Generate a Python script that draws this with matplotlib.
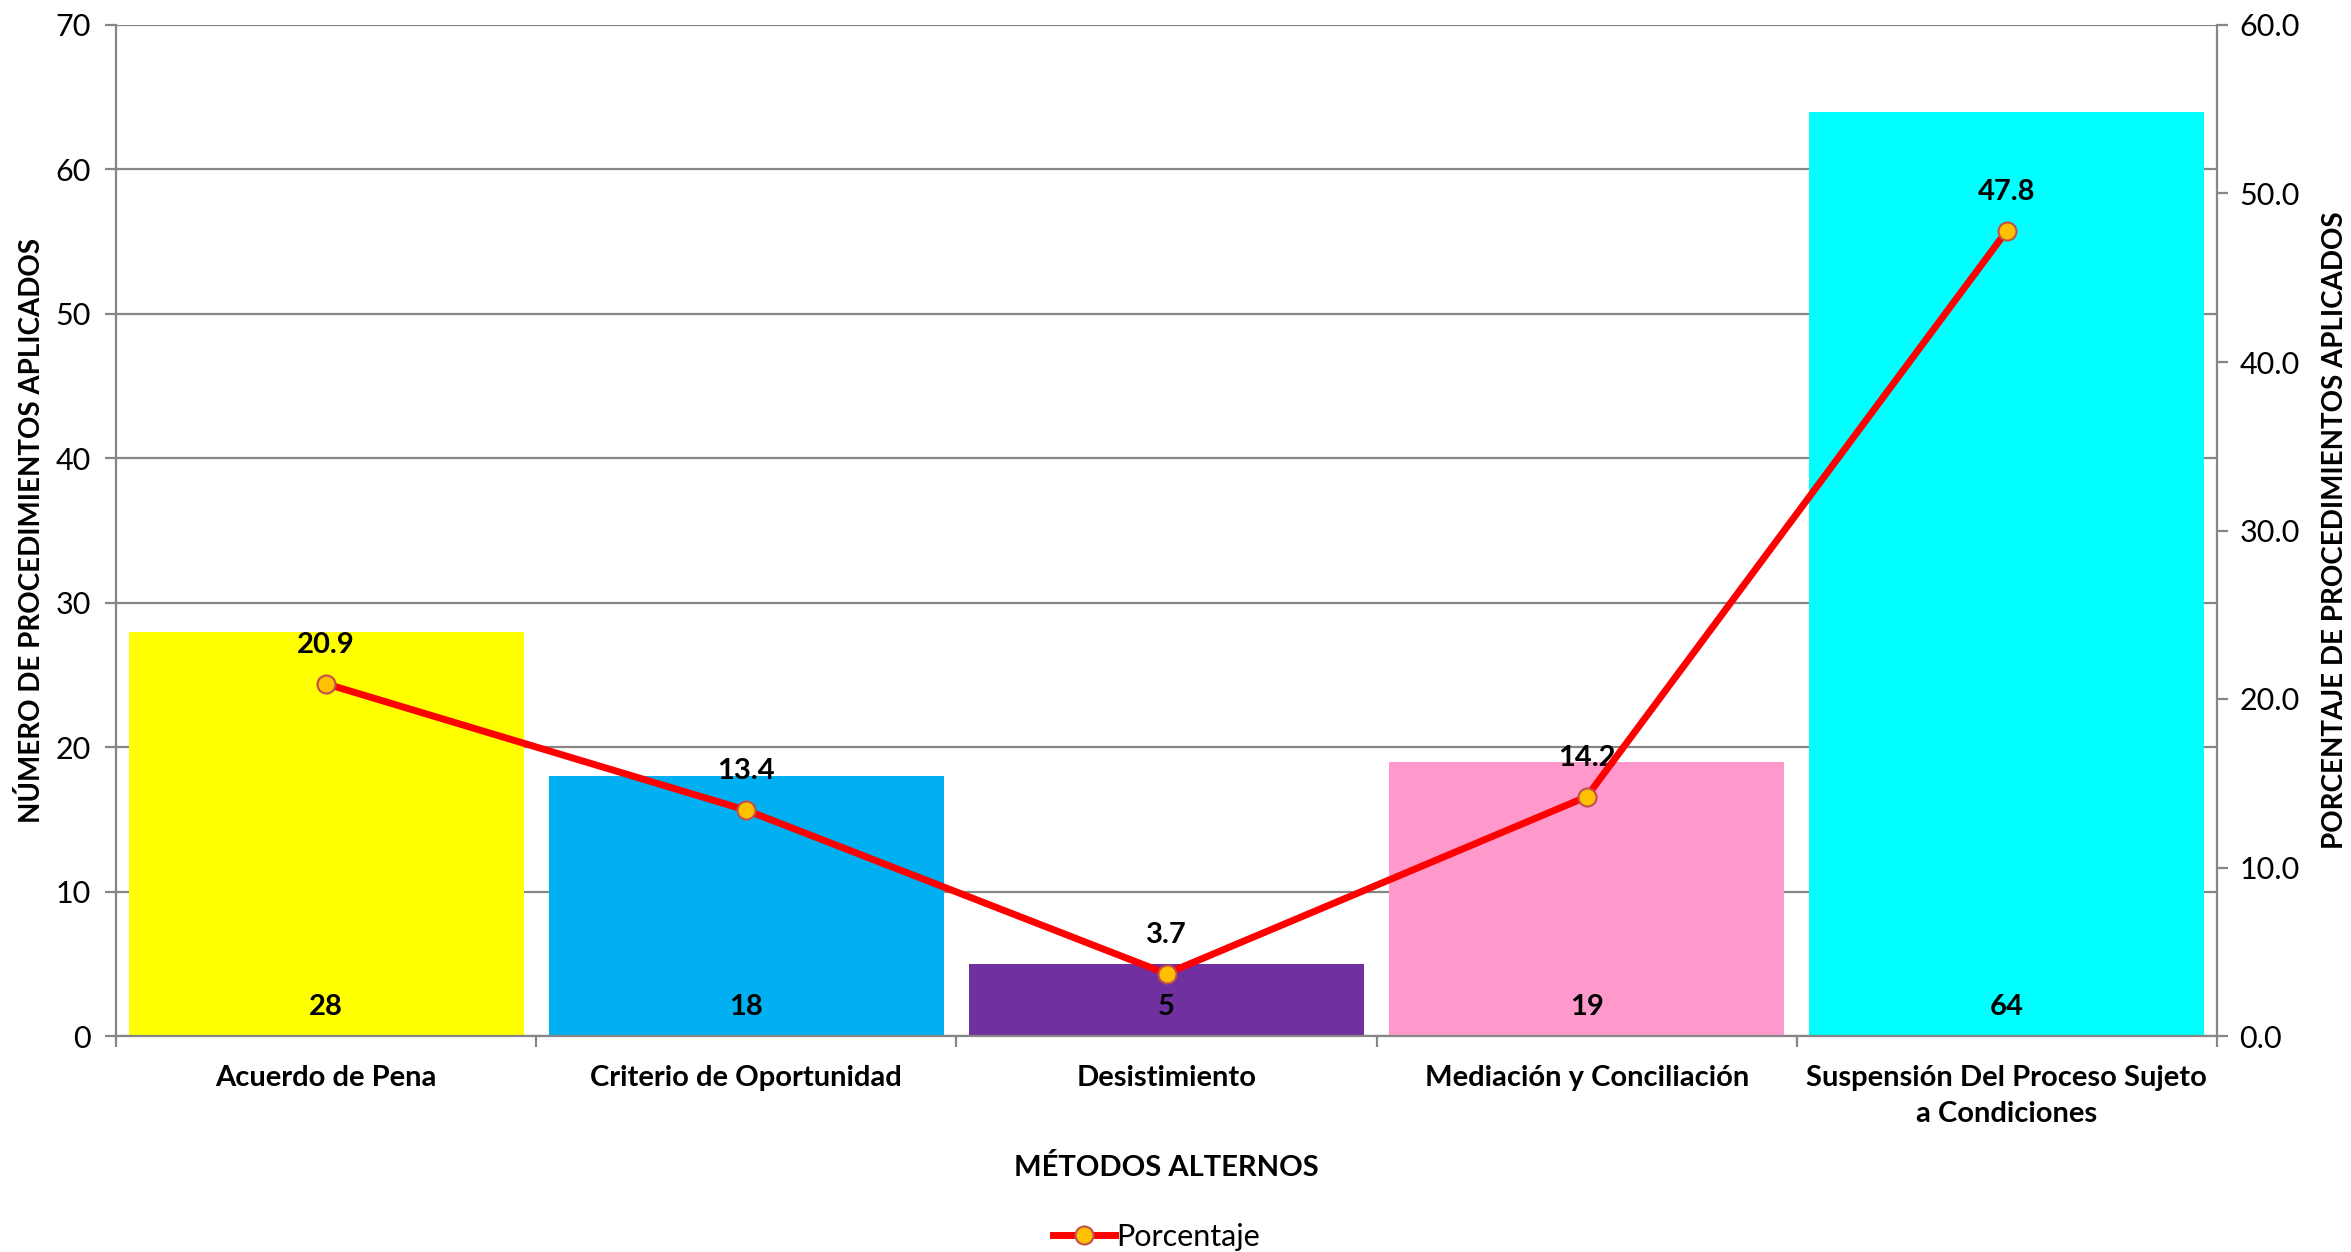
import numpy as np
import matplotlib
matplotlib.use("Agg")
import matplotlib.pyplot as plt
from matplotlib.lines import Line2D

# data
categories = ["Acuerdo de Pena", "Criterio de Oportunidad", "Desistimiento",
              "Mediación y Conciliación", "Suspensión Del Proceso Sujeto\na Condiciones"]
counts = [28, 18, 5, 19, 64]
percent = [20.9, 13.4, 3.7, 14.2, 47.8]
bar_colors = ["#FFFF00", "#00B0F0", "#7030A0", "#FF99CC", "#00FFFF"]

plt.rcParams['font.family'] = ['Lato', 'DejaVu Sans']
grey = "#868686"

fig = plt.figure(figsize=(23.51, 12.52), dpi=100)
ax = fig.add_axes([116 / 2351, 1 - 1036 / 1252, (2217 - 116) / 2351, (1036 - 25) / 1252])
ax2 = ax.twinx()

x = np.arange(len(categories))
ax.bar(x, counts, width=0.94, color=bar_colors, zorder=2)
ax.set_xlim(-0.5, len(categories) - 0.5)
ax.set_ylim(0, 70)
ax.set_yticks(np.arange(0, 71, 10))
ax.yaxis.grid(True, color=grey, linewidth=1.6, zorder=0)
ax.set_axisbelow(True)

# count labels near the bottom of each bar
for xi, c in zip(x, counts):
    ax.annotate(str(c), (xi, 0), xytext=(0, 21), textcoords="offset points",
                ha="center", va="center", fontsize=21, fontweight="bold", zorder=5)

# category ticks between bars
ax.set_xticks(x)
ax.set_xticklabels(categories, fontsize=21, fontweight="bold", linespacing=1.45)
ax.tick_params(axis="x", length=0, pad=21)
ax.set_xticks(np.arange(-0.5, len(categories), 1), minor=True)
ax.tick_params(axis="x", which="minor", length=8, color=grey, width=1.6)
ax.tick_params(axis="y", length=8, color=grey, width=1.6, labelsize=22, pad=10)

for side in ["top", "right"]:
    ax.spines[side].set_visible(False)
ax.spines["left"].set_color(grey)
ax.spines["left"].set_linewidth(1.6)
ax.spines["bottom"].set_color(grey)
ax.spines["bottom"].set_linewidth(1.6)

ax.set_xlabel("MÉTODOS ALTERNOS", fontsize=21, fontweight="bold", labelpad=20)
ax.set_ylabel("NÚMERO DE PROCEDIMIENTOS APLICADOS", fontsize=20, fontweight="bold", labelpad=8)

# percentage line on secondary axis
ax2.plot(x, percent, color="#FF0000", linewidth=5, marker="o", markersize=13,
         markerfacecolor="#FFC000", markeredgecolor="#C0504D", markeredgewidth=1.5, zorder=4)
ax2.set_ylim(0, 60)
ax2.set_yticks(np.arange(0, 61, 10))
ax2.set_yticklabels([f"{v:.1f}" for v in np.arange(0, 61, 10)])
ax2.tick_params(axis="y", length=8, color=grey, width=1.6, labelsize=22, pad=8)
for side in ["top", "left", "bottom"]:
    ax2.spines[side].set_visible(False)
ax2.spines["right"].set_color(grey)
ax2.spines["right"].set_linewidth(1.6)
ax2.set_ylabel("PORCENTAJE DE PROCEDIMIENTOS APLICADOS", fontsize=20, fontweight="bold",
               rotation=90, labelpad=16)

for xi, p in zip(x, percent):
    ax2.annotate(f"{p:.1f}", (xi, p), xytext=(0, 28), textcoords="offset points",
                 ha="center", va="center", fontsize=21, fontweight="bold")

handle = Line2D([], [], color="#FF0000", linewidth=5, marker="o", markersize=13,
                markerfacecolor="#FFC000", markeredgecolor="#C0504D", markeredgewidth=1.5)
fig.legend([handle], ["Porcentaje"], loc="center", bbox_to_anchor=(0.492, 1 - 1237 / 1252),
           frameon=False, fontsize=22, handlelength=2.0, handletextpad=0.05)

fig.savefig("out.png", dpi=100)
